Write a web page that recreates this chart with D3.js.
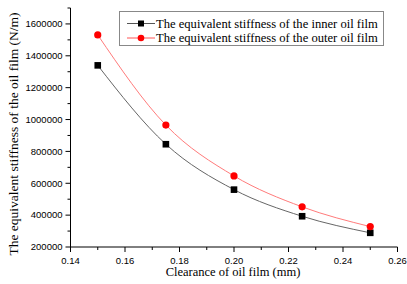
<!DOCTYPE html>
<html>
<head>
<meta charset="utf-8">
<script src="https://cdn.jsdelivr.net/npm/d3@7"></script>
<style>
body{margin:0;background:#fff;}
svg{display:block;}
</style>
</head>
<body>
<div id="chart"></div>
<script>
// data
var clearance=[0.15,0.175,0.2,0.225,0.25];
var innerK=[1340000,845000,560000,393000,289000];
var outerK=[1531000,965000,646000,452000,328000];
var xTicks=[0.14,0.16,0.18,0.20,0.22,0.24,0.26];
var yTicks=[200000,400000,600000,800000,1000000,1200000,1400000,1600000];
var legendNames=["The equivalent stiffness of the inner oil film","The equivalent stiffness of the outer oil film"];

var W=407,H=284;
var svg=d3.select("#chart").append("svg").attr("width",W).attr("height",H);

var x=d3.scaleLinear().domain([0.14,0.26]).range([70.5,397.5]);
var y=d3.scaleLinear().domain([200000,1700000]).range([247,8]);

var sans="'Liberation Sans',Arial,sans-serif";
var serif="'Liberation Serif','Times New Roman',serif";

// x axis
var gx=svg.append("g").attr("transform","translate(0,247)");
gx.append("line").attr("x1",x(0.14)).attr("x2",x(0.26)).attr("stroke","#000");
gx.selectAll(".minor").data(d3.range(0.15,0.26,0.02)).enter().append("line")
    .attr("x1",function(d){return x(d);}).attr("x2",function(d){return x(d);})
    .attr("y1",0).attr("y2",3).attr("stroke","#000");
gx.selectAll(".major").data(xTicks).enter().append("line")
    .attr("x1",function(d){return x(d);}).attr("x2",function(d){return x(d);})
    .attr("y1",0).attr("y2",5).attr("stroke","#000");
gx.selectAll("text").data(xTicks).enter().append("text")
    .attr("x",function(d){return x(d);}).attr("y",17)
    .attr("text-anchor","middle").attr("font-family",sans).attr("font-size","9.5px")
    .text(function(d){return d.toFixed(2);});

// y axis
var gy=svg.append("g").attr("transform","translate(70.5,0)");
gy.append("line").attr("y1",y(200000)).attr("y2",y(1700000)).attr("stroke","#000");
gy.selectAll(".minor").data(d3.range(300000,1700001,200000)).enter().append("line")
    .attr("y1",function(d){return y(d);}).attr("y2",function(d){return y(d);})
    .attr("x1",0).attr("x2",-3).attr("stroke","#000");
gy.selectAll(".major").data(yTicks).enter().append("line")
    .attr("y1",function(d){return y(d);}).attr("y2",function(d){return y(d);})
    .attr("x1",0).attr("x2",-5).attr("stroke","#000");
gy.selectAll("text").data(yTicks).enter().append("text")
    .attr("x",-8).attr("y",function(d){return y(d)+3.3;})
    .attr("text-anchor","end").attr("font-family",sans).attr("font-size","9.5px")
    .text(function(d){return d;});

// titles
svg.append("text").attr("transform","translate(18,134) rotate(-90)")
    .attr("text-anchor","middle").attr("font-family",serif).attr("font-size","13.5px")
    .text("The equivalent stiffness of the oil film (N/m)");
svg.append("text").attr("x",233).attr("y",276)
    .attr("text-anchor","middle").attr("font-family",serif).attr("font-size","12.5px")
    .text("Clearance of oil film (mm)");

// lines
var line=d3.line().curve(d3.curveMonotoneX)
    .x(function(d){return x(d[0]);}).y(function(d){return y(d[1]);});
var innerPts=d3.zip(clearance,innerK);
var outerPts=d3.zip(clearance,outerK);

svg.append("path").datum(innerPts).attr("d",line).attr("fill","none").attr("stroke","#666").attr("stroke-width",1);
svg.append("path").datum(outerPts).attr("d",line).attr("fill","none").attr("stroke","#ff7b7b").attr("stroke-width",1);

svg.selectAll(".sq").data(innerPts).enter().append("rect")
    .attr("x",function(d){return x(d[0])-3.3;}).attr("y",function(d){return y(d[1])-3.3;})
    .attr("width",6.6).attr("height",6.6).attr("fill","#000");
svg.selectAll(".ci").data(outerPts).enter().append("circle")
    .attr("cx",function(d){return x(d[0]);}).attr("cy",function(d){return y(d[1]);})
    .attr("r",3.6).attr("fill","#ff0000");

// legend
var lg=svg.append("g");
lg.append("rect").attr("x",119.5).attr("y",11.5).attr("width",264).attr("height",34)
    .attr("fill","#fff").attr("stroke","#888").attr("stroke-width",1);
[{c:"#555",m:"sq"},{c:"#ff5555",m:"ci"}].forEach(function(s,i){
    var cy=23.5+i*14.5;
    lg.append("line").attr("x1",127).attr("x2",155).attr("y1",cy).attr("y2",cy).attr("stroke",s.c);
    if(s.m==="sq"){
        lg.append("rect").attr("x",138).attr("y",cy-3).attr("width",6).attr("height",6).attr("fill","#000");
    }else{
        lg.append("circle").attr("cx",141).attr("cy",cy).attr("r",3.3).attr("fill","#ff0000");
    }
    lg.append("text").attr("x",156).attr("y",cy+4).attr("font-family",serif).attr("font-size","12.6px")
        .text(legendNames[i]);
});
</script>
</body>
</html>
